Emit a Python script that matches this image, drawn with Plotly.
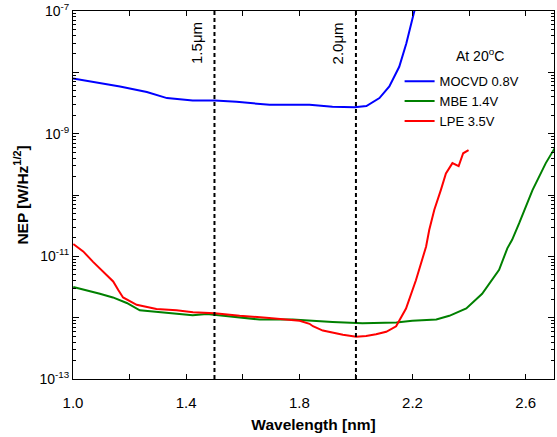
import plotly.graph_objects as go

# MOCVD 0.8V (blue)
mocvd_wl = [1.000, 1.166, 1.261, 1.332, 1.423, 1.501, 1.578, 1.695, 1.836, 1.917, 1.995, 2.037, 2.083, 2.118, 2.153, 2.178, 2.206, 2.217]
mocvd_log = [-8.10, -8.23, -8.32, -8.42, -8.46, -8.46, -8.48, -8.53, -8.53, -8.56, -8.57, -8.55, -8.42, -8.23, -7.91, -7.53, -7.01, -6.85]

# MBE 1.4V (green)
mbe_wl = [1.001, 1.048, 1.095, 1.141, 1.190, 1.236, 1.307, 1.377, 1.423, 1.473, 1.543, 1.614, 1.660, 1.776, 1.836, 1.917, 2.023, 2.143, 2.199, 2.284, 2.330, 2.390, 2.446, 2.506, 2.535, 2.552, 2.577, 2.624, 2.671, 2.706]
mbe_log = [-11.50, -11.55, -11.61, -11.67, -11.76, -11.88, -11.91, -11.95, -11.96, -11.94, -11.97, -12.01, -12.03, -12.03, -12.05, -12.07, -12.09, -12.08, -12.05, -12.03, -11.97, -11.85, -11.61, -11.22, -10.87, -10.73, -10.46, -9.92, -9.48, -9.21]

# LPE 3.5V (red)
lpe_wl = [1.001, 1.036, 1.071, 1.107, 1.142, 1.160, 1.177, 1.225, 1.295, 1.366, 1.424, 1.501, 1.589, 1.683, 1.766, 1.801, 1.836, 1.848, 1.883, 1.954, 2.001, 2.036, 2.071, 2.107, 2.142, 2.177, 2.212, 2.248, 2.259, 2.277, 2.300, 2.318, 2.341, 2.363, 2.379, 2.398]
lpe_log = [-10.80, -10.92, -11.09, -11.25, -11.41, -11.55, -11.67, -11.79, -11.86, -11.88, -11.91, -11.93, -11.97, -12.00, -12.03, -12.05, -12.10, -12.14, -12.21, -12.28, -12.31, -12.30, -12.27, -12.23, -12.14, -11.85, -11.39, -10.84, -10.57, -10.24, -9.92, -9.65, -9.48, -9.53, -9.32, -9.27]

x_tickvals = [1.0, 1.2, 1.4, 1.6, 1.8, 2.0, 2.2, 2.4, 2.6]
x_ticktext = ["1.0", "", "1.4", "", "1.8", "", "2.2", "", "2.6"]
y_decades = [-13, -12, -11, -10, -9, -8, -7]
y_ticktext = ["10<sup>-13</sup>", "", "10<sup>-11</sup>", "", "10<sup>-9</sup>", "", "10<sup>-7</sup>"]
minor_digits = [2, 3, 4, 5, 6, 7, 8, 9]
marker_wl = [1.5, 2.0]
marker_text = ["1.5\u03bcm", "2.0\u03bcm"]

FONT = "Liberation Sans, Arial, sans-serif"

fig = go.Figure()
for name, wl, lg, col in [("MOCVD 0.8V", mocvd_wl, mocvd_log, "#0000FF"),
                          ("MBE 1.4V", mbe_wl, mbe_log, "#008000"),
                          ("LPE 3.5V", lpe_wl, lpe_log, "#FF0000")]:
    fig.add_trace(go.Scatter(x=wl, y=[10 ** v for v in lg], mode="lines", name=name,
                             line=dict(color=col, width=2)))

# invisible helper trace for the minor-tick axis
fig.add_trace(go.Scatter(x=[1.0], y=[1e-10], yaxis="y2", mode="markers",
                         marker=dict(opacity=0), showlegend=False, hoverinfo="skip"))

for wl, txt in zip(marker_wl, marker_text):
    fig.add_shape(type="line", x0=wl, x1=wl, y0=0, y1=1, xref="x", yref="paper",
                  line=dict(color="black", width=2, dash="4px,3px"))
    fig.add_annotation(x=wl, y=1, xref="x", yref="paper", text=txt, textangle=-90,
                       showarrow=False, xanchor="right", yanchor="top", xshift=-8, yshift=-9,
                       font=dict(family=FONT, size=15, color="black"))

fig.add_annotation(x=0.792, y=0.880, xref="paper", yref="paper", text="At 20<sup>o</sup>C",
                   showarrow=False, xanchor="left", yanchor="middle",
                   font=dict(family=FONT, size=14, color="black"))

minor_vals = [d * 10 ** k for k in range(-13, -7) for d in minor_digits]

fig.update_layout(
    width=557, height=437,
    margin=dict(l=73, r=3, t=11, b=58),
    paper_bgcolor="white", plot_bgcolor="white",
    font=dict(family=FONT, size=14, color="black"),
    showlegend=True,
    legend=dict(x=0.679, y=0.850, xanchor="left", yanchor="top", bgcolor="rgba(0,0,0,0)",
                font=dict(family=FONT, size=13), itemwidth=30),
    xaxis=dict(range=[1.0, 2.7], tickvals=x_tickvals, ticktext=x_ticktext, automargin=False,
               ticks="inside", ticklen=5, tickcolor="black", showline=True, linecolor="black",
               linewidth=1, mirror="ticks", showgrid=False, zeroline=False,
               tickfont=dict(size=15), ticklabeloverflow="allow", ticklabelstandoff=10,
               title=dict(text="<b>Wavelength [nm]</b>", font=dict(family=FONT, size=15.5), standoff=9)),
    yaxis=dict(type="log", range=[-13, -7], tickvals=[10 ** k for k in y_decades], ticktext=y_ticktext,
               automargin=False, ticklabeloverflow="allow",
               ticks="inside", ticklen=6, tickcolor="black", showline=True, linecolor="black",
               linewidth=1, mirror="ticks", showgrid=False, zeroline=False,
               tickfont=dict(size=14),
               title=dict(text="<b>NEP [W/Hz<sup>1/2</sup>]</b>", font=dict(family=FONT, size=15.5), standoff=7)),
    yaxis2=dict(type="log", range=[-13, -7], overlaying="y", side="left", tickvals=minor_vals,
                ticktext=[""] * len(minor_vals), ticks="inside", ticklen=3, tickcolor="black",
                showline=False, mirror="ticks", showgrid=False, zeroline=False, automargin=False),
)

# remove the default 8px page margin so the 557x437 figure fills the window exactly
fig.write_html("out.html", config={"displayModeBar": False},
               post_script="document.body.style.margin='0px';")
